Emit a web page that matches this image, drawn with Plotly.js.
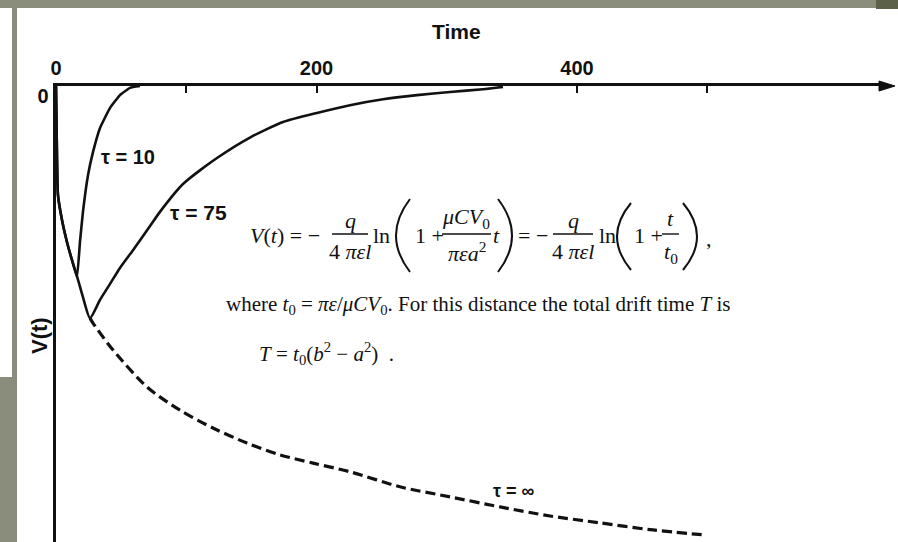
<!DOCTYPE html>
<html>
<head>
<meta charset="utf-8">
<script src="https://cdn.plot.ly/plotly-3.0.1.min.js"></script>
<style>
  html, body { margin: 0; padding: 0; background: #ffffff; }
  #chart { width: 898px; height: 542px; }
</style>
</head>
<body>
<div id="chart"></div>
<script>
// Potential V(t) after a charge is released: the common ln envelope,
// and the decays for two time constants.
const timeTau10 = [0, 0.4, 0.8, 1.5, 4.6, 8.4, 12.3, 16.1, 18.4, 20.7, 24.6, 28.4, 33.8, 41.5, 49.1, 56.8, 64.5];
const vTau10    = [0, -0.75, -1.62, -2.39, -2.94, -3.42, -3.82, -4.19, -3.42, -2.76, -1.95, -1.45, -0.92, -0.48, -0.20, -0.04, 0];

const timeTau75 = [0, 0.4, 0.8, 1.5, 4.6, 8.4, 12.3, 16.1, 20.7, 26.1, 33.8, 41.5, 49.1, 59.1, 72.2, 79.8, 97.5, 123.6, 148.9, 174.3, 200.4, 225.7, 251.1, 277.2, 302.5, 327.8, 343.2];
const vTau75    = [0, -0.75, -1.62, -2.39, -2.94, -3.42, -3.82, -4.17, -4.63, -5.09, -4.69, -4.34, -3.99, -3.60, -3.07, -2.76, -2.15, -1.58, -1.13, -0.79, -0.59, -0.42, -0.29, -0.20, -0.13, -0.07, -0.02];

const timeTauInf = [26.1, 28.4, 43.8, 69.9, 95.2, 120.5, 146.6, 172.0, 197.4, 225.7, 264.1, 302.5, 340.9, 379.3, 417.7, 456.0, 499.8];
const vTauInf    = [-5.09, -5.20, -5.79, -6.60, -7.11, -7.50, -7.83, -8.09, -8.27, -8.46, -8.79, -9.01, -9.23, -9.43, -9.58, -9.73, -9.85];

const xTickVals = [0, 100, 200, 400, 500];
const xTickText = ['0', '', '200', '400', ''];
const yTickVals = [0];
const yTickText = ['0'];

const curveLabels = ['τ = 10', 'τ = 75', 'τ = ∞'];

// page pixels -> paper fractions (margins are zero, so paper = whole figure)
const W = 898, H = 542;
const px = x => x / W;
const py = y => 1 - y / H;

const SERIF = 'Liberation Serif, Times New Roman, serif';
const SANS = 'Liberation Sans, Arial, sans-serif';

const traces = [
  { x: timeTau10, y: vTau10, mode: 'lines', line: { color: '#111', width: 2.6, shape: 'spline', smoothing: 0.35 }, cliponaxis: false, hoverinfo: 'skip' },
  { x: timeTau75, y: vTau75, mode: 'lines', line: { color: '#111', width: 2.6, shape: 'spline', smoothing: 0.6 }, cliponaxis: false, hoverinfo: 'skip' },
  { x: timeTauInf, y: vTauInf, mode: 'lines', line: { color: '#111', width: 3.2, dash: '10px,5px', shape: 'spline', smoothing: 0.8 }, cliponaxis: false, hoverinfo: 'skip' }
];

function txt(x, y, text, size, opts = {}) {
  return Object.assign({
    xref: 'paper', yref: 'paper', x: px(x), y: py(y), text: text, showarrow: false,
    xanchor: 'center', yanchor: 'middle', borderpad: 0,
    font: { family: SERIF, size: size, color: '#111' }
  }, opts);
}
const bold = (size) => ({ family: SANS, size: size, color: '#111', weight: 'bold' });

const EQ = 22;
const annotations = [
  // axis titles
  txt(457, 31, 'Time', 21, { font: bold(21) }),
  txt(39, 336, 'V(t)', 22, { textangle: -90, font: bold(22) }),
  // curve labels
  txt(128, 157, curveLabels[0], 20, { font: bold(20) }),
  txt(198, 212, curveLabels[1], 21, { font: bold(21) }),
  txt(514, 491, curveLabels[2], 18, { font: bold(18) }),

  // V(t) = -q/(4 pi eps l) ln(1 + mu C V0 t/(pi eps a^2)) = -q/(4 pi eps l) ln(1 + t/t0) ,
  txt(249, 235, '<i>V</i>(<i>t</i>) = −', EQ, { xanchor: 'left' }),
  txt(350, 220, '<i>q</i>', EQ),
  txt(350, 252, '4 <i>πεl</i>', EQ),
  txt(372, 235, 'ln', EQ, { xanchor: 'left' }),
  txt(414, 235, '1 +', EQ, { xanchor: 'left' }),
  txt(466, 218, '<i>μCV</i><sub>0</sub>', EQ),
  txt(467, 252, '<i>πεa</i><sup>2</sup>', EQ),
  txt(492, 235, '<i>t</i>', EQ, { xanchor: 'left' }),
  txt(517, 235, '= −', EQ, { xanchor: 'left' }),
  txt(573, 220, '<i>q</i>', EQ),
  txt(573, 252, '4 <i>πεl</i>', EQ),
  txt(598, 235, 'ln', EQ, { xanchor: 'left' }),
  txt(633, 235, '1 +', EQ, { xanchor: 'left' }),
  txt(670, 218, '<i>t</i>', EQ),
  txt(671, 253, '<i>t</i><sub>0</sub>', EQ),
  txt(705, 238, ',', EQ, { xanchor: 'left' }),

  txt(225, 305, 'where <i>t</i><sub>0</sub> = <i>πε</i>/<i>μCV</i><sub>0</sub>. For this distance the total drift time <i>T</i> is', 21, { xanchor: 'left' }),
  txt(258, 353, '<i>T</i> = <i>t</i><sub>0</sub>(<i>b</i><sup>2</sup> − <i>a</i><sup>2</sup>)  .', 21, { xanchor: 'left' })
];

function hline(x0, x1, y, w) {
  return { type: 'line', xref: 'paper', yref: 'paper', x0: px(x0), x1: px(x1), y0: py(y), y1: py(y), line: { color: '#111', width: w || 1.4 } };
}
// tall parenthesis drawn as a curved path from top end through the bulge to bottom end
function paren(xEdge, xMid, yTop, yBot) {
  const yc = (yTop + yBot) / 2;
  return {
    type: 'path', xref: 'paper', yref: 'paper',
    path: `M ${px(xEdge)} ${py(yTop)} Q ${px(2 * xMid - xEdge)} ${py(yc)} ${px(xEdge)} ${py(yBot)}`,
    line: { color: '#111', width: 2 }
  };
}

const shapes = [
  // scan border strips
  { type: 'rect', xref: 'paper', yref: 'paper', x0: 0, x1: 1, y0: py(8), y1: 1, fillcolor: '#8a8c7c', line: { width: 0 }, layer: 'above' },
  { type: 'rect', xref: 'paper', yref: 'paper', x0: px(876), x1: 1, y0: py(9), y1: 1, fillcolor: '#5b6049', line: { width: 0 }, layer: 'above' },
  { type: 'rect', xref: 'paper', yref: 'paper', x0: px(12), x1: px(17), y0: 0, y1: 1, fillcolor: '#8a8c7c', line: { width: 0 }, layer: 'above' },
  { type: 'rect', xref: 'paper', yref: 'paper', x0: 0, x1: px(17), y0: 0, y1: py(377), fillcolor: '#8a8c7c', line: { width: 0 }, layer: 'above' },
  // arrow head at the end of the time axis
  { type: 'path', xref: 'paper', yref: 'paper',
    path: `M ${px(895)} ${py(86)} L ${px(879)} ${py(81)} L ${px(879)} ${py(91)} Z`,
    fillcolor: '#111', line: { color: '#111', width: 1 } },
  // fraction bars
  hline(332, 368, 234), hline(442, 491, 234), hline(553, 593, 234), hline(662, 679, 234),
  // parentheses
  paren(410, 396, 199, 272), paren(498, 512, 199, 272),
  paren(631, 617, 203, 270), paren(683, 697, 203, 270)
];

const layout = {
  width: W, height: H,
  margin: { l: 0, r: 0, t: 0, b: 0, pad: 0 },
  paper_bgcolor: '#ffffff', plot_bgcolor: '#ffffff',
  showlegend: false,
  xaxis: {
    domain: [px(56), px(882)],
    range: [0, (882 - 56) / 1.3025],
    side: 'top', anchor: 'y',
    showline: true, linecolor: '#111', linewidth: 3,
    showgrid: false, zeroline: false,
    ticks: 'inside', ticklen: 7, tickwidth: 2, tickcolor: '#111',
    tickvals: xTickVals, ticktext: xTickText,
    tickfont: { family: SANS, size: 20, color: '#111', weight: 'bold' }
  },
  yaxis: {
    domain: [0, py(86)],
    range: [-10, 0],
    showline: true, linecolor: '#111', linewidth: 3.5,
    showgrid: false, zeroline: false,
    ticks: '', tickvals: yTickVals, ticktext: yTickText,
    ticklabelshift: 10,
    tickfont: { family: SANS, size: 20, color: '#111', weight: 'bold' }
  },
  annotations: annotations,
  shapes: shapes
};

Plotly.newPlot('chart', traces, layout, { staticPlot: true, displayModeBar: false });
</script>
</body>
</html>
